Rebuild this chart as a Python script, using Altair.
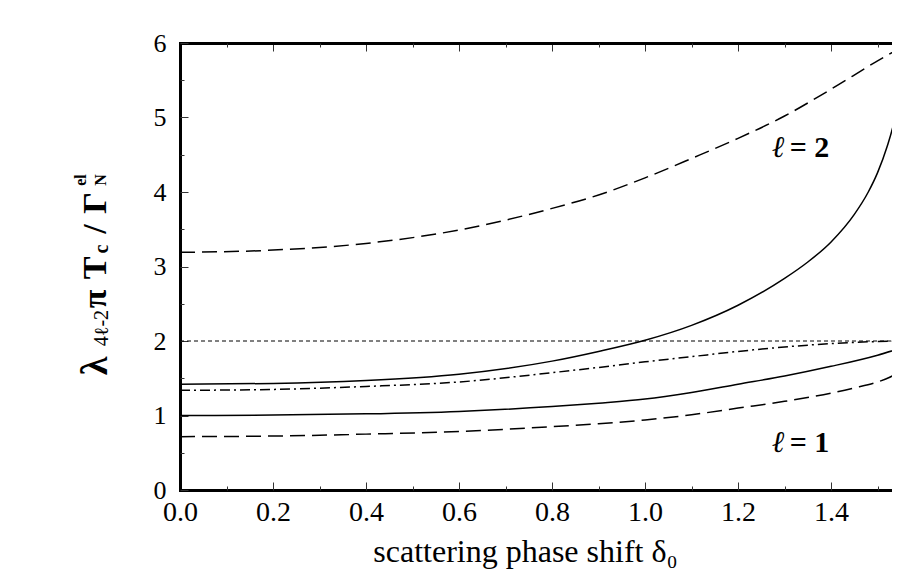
import altair as alt
import pandas as pd

# ---------------- data ----------------
x_pts = [0.0, 0.2, 0.4, 0.6, 0.8, 0.9, 1.0, 1.1, 1.2, 1.3, 1.4, 1.5, 1.548]

l2_dashed = [3.19, 3.22, 3.31, 3.49, 3.78, 3.96, 4.19, 4.45, 4.72, 5.02, 5.38, 5.76, 5.93]
l1_dashdot = [1.338, 1.35, 1.39, 1.45, 1.575, 1.645, 1.72, 1.79, 1.86, 1.92, 1.965, 1.993, 2.0]
l1_solid = [1.0, 1.006, 1.022, 1.055, 1.12, 1.165, 1.22, 1.31, 1.42, 1.53, 1.66, 1.81, 1.90]

x_l1_dashed = [0.0, 0.2, 0.4, 0.6, 0.8, 0.9, 1.0, 1.1, 1.2, 1.3, 1.4, 1.45, 1.5, 1.525, 1.548]
l1_dashed = [0.716, 0.724, 0.75, 0.785, 0.85, 0.89, 0.94, 1.01, 1.10, 1.19, 1.30, 1.37, 1.45, 1.51, 1.59]

x_l2_solid = [0.0, 0.2, 0.4, 0.6, 0.8, 0.9, 1.0, 1.1, 1.2, 1.3, 1.35, 1.4, 1.45, 1.48,
              1.5, 1.52, 1.535, 1.548]
l2_solid = [1.42, 1.43, 1.47, 1.555, 1.73, 1.86, 2.01, 2.21, 2.48, 2.84, 3.06, 3.33, 3.70, 4.00,
            4.26, 4.60, 4.93, 5.37]

ref_x = [0.0, 1.548]
ref_y = [2.0, 2.0]

x_major = [0.0, 0.2, 0.4, 0.6, 0.8, 1.0, 1.2, 1.4]
x_minor = [0.1, 0.3, 0.5, 0.7, 0.9, 1.1, 1.3, 1.5]
y_major = [0, 1, 2, 3, 4, 5, 6]
y_minor = [0.5, 1.5, 2.5, 3.5, 4.5, 5.5]

label_ell = ["ℓ", "ℓ"]
label_rest = ["= 2", "= 1"]
label_x_ell = [1.286, 1.286]
label_x_rest = [1.311, 1.311]
label_y = [4.47, 0.51]

# ---------------- layout ----------------
W, H = 712, 447
X_MAX = 1.531
SERIF = "Liberation Serif"

xs = alt.Scale(domain=[0, X_MAX], nice=False, zero=False)
ys = alt.Scale(domain=[0, 6], nice=False, zero=False)


def df(xv, yv):
    return pd.DataFrame({"x": xv, "y": yv})


ax_x_labels = alt.Axis(orient="bottom", values=x_major, format=".1f", ticks=False, grid=False,
                       domain=True, domainWidth=3, domainColor="black", domainCap="square",
                       labelFont=SERIF, labelFontSize=28, labelColor="black", labelPadding=8,
                       labelFlush=False, labelOverlap=False,
                       title="scattering phase shift δ₀", titleFont=SERIF, titleFontSize=32,
                       titleFontWeight="normal", titleColor="black", titleX=345, titleY=71,
                       titleBaseline="alphabetic", titleAlign="center")
ax_y_labels = alt.Axis(orient="left", values=y_major, format="d", ticks=False, grid=False,
                       domain=True, domainWidth=3, domainColor="black", domainCap="square",
                       labelFont=SERIF, labelFontSize=26, labelColor="black", labelPadding=14,
                       labelFlush=False, labelOverlap=False, title=None)


def tick_axis(orient, offset, values, size, domain=False):
    return alt.Axis(orient=orient, offset=offset, values=values, labels=False, grid=False,
                    domain=domain, domainWidth=3, domainColor="black", domainCap="square",
                    ticks=True, tickSize=size, tickColor="#333333", tickWidth=1, title=None)


ax_x_up_major = tick_axis("top", -H, x_major, 8)
ax_x_up_minor = tick_axis("top", -H, x_minor, 4)
ax_x_down_major = tick_axis("bottom", -H, x_major, 8, domain=True)
ax_x_down_minor = tick_axis("bottom", -H, x_minor, 4)
ax_y_major = tick_axis("right", -W, y_major, 8)
ax_y_minor = tick_axis("right", -W, y_minor, 4)


def curve(data, dash, xaxis, yaxis, width=1.5):
    kw = dict(color="black", strokeWidth=width, clip=True, interpolate="monotone")
    if dash:
        kw["strokeDash"] = dash
    return alt.Chart(data).mark_line(**kw).encode(
        x=alt.X("x:Q", scale=xs, axis=xaxis),
        y=alt.Y("y:Q", scale=ys, axis=yaxis),
    )


c1 = curve(df(x_pts, l2_dashed), [15, 7], ax_x_labels, ax_y_labels)
c2 = curve(df(x_l2_solid, l2_solid), None, ax_x_up_major, ax_y_major)
c3 = curve(df(x_pts, l1_solid), None, ax_x_up_minor, ax_y_minor)
c4 = curve(df(x_pts, l1_dashdot), [10, 4, 2, 4], ax_x_down_major, None)
c5 = curve(df(x_l1_dashed, l1_dashed), [15, 7], ax_x_down_minor, None)
c6 = curve(df(ref_x, ref_y), [4, 3], None, None, width=1)

lab_df = pd.DataFrame({"ell": label_ell, "rest": label_rest, "xe": label_x_ell,
                       "xr": label_x_rest, "y": label_y})
lab_ell = alt.Chart(lab_df).mark_text(font=SERIF, fontSize=30, fontStyle="italic", color="black",
                                      align="center", baseline="alphabetic").encode(
    x=alt.X("xe:Q", scale=xs, axis=None), y=alt.Y("y:Q", scale=ys, axis=None), text="ell:N")
lab_rest = alt.Chart(lab_df).mark_text(font=SERIF, fontSize=30, fontWeight="bold", color="black",
                                       align="left", baseline="alphabetic").encode(
    x=alt.X("xr:Q", scale=xs, axis=None), y=alt.Y("y:Q", scale=ys, axis=None), text="rest:N")

# y-axis title pieces (rotated), placed relative to the plot area
one = pd.DataFrame({"_": [0]})


def ypiece(txt, size, xpix, ypix, weight="bold", style="normal"):
    return alt.Chart(one).mark_text(text=txt, font=SERIF, fontSize=size, fontWeight=weight,
                                    fontStyle=style, color="black", angle=270, align="center",
                                    baseline="alphabetic").encode(
        x=alt.value(xpix), y=alt.value(ypix))


title_parts = [
    ypiece("λ", 38, -73, 323),
    ypiece("4ℓ-2", 20, -72, 285, weight="normal"),
    ypiece("π", 34, -74, 256),
    ypiece("T", 34, -74, 225),
    ypiece("c", 20, -72, 206),
    ypiece("/", 34, -74, 186),
    ypiece("Γ", 34, -74, 160),
    ypiece("el", 16, -94, 137),
    ypiece("N", 16, -74, 137),
]

chart = alt.layer(c1, c2, c3, c4, c5, c6, lab_ell, lab_rest, *title_parts).resolve_axis(
    x="independent", y="independent"
).properties(
    width=W, height=H,
    autosize=alt.AutoSizeParams(type="none"),
    padding={"left": 172, "top": 35, "right": 0, "bottom": 81},
    background="white",
).configure_view(strokeWidth=0).configure_axis(labelFont=SERIF, titleFont=SERIF)

chart.save("out.html", embed_options={"renderer": "svg", "actions": False})
